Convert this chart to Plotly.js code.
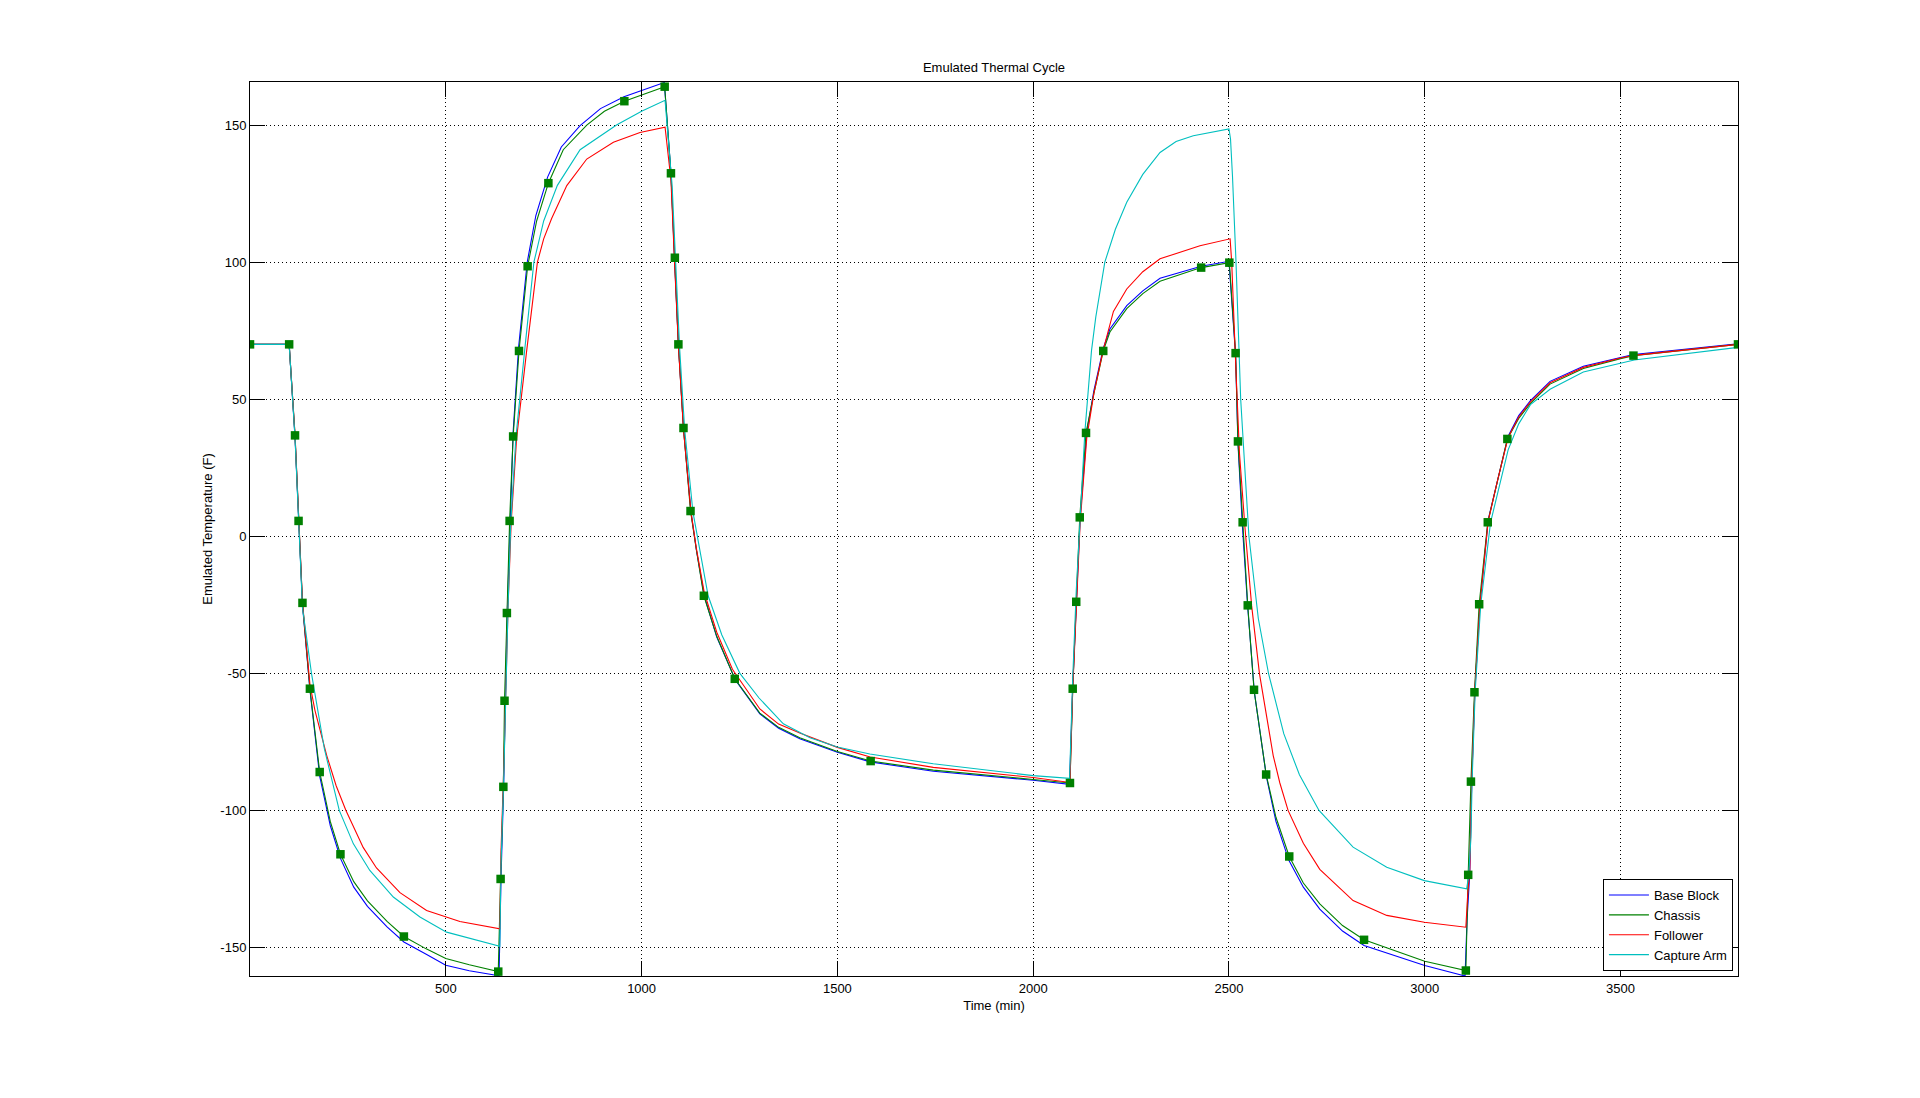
<!DOCTYPE html>
<html>
<head>
<meta charset="utf-8">
<script src="https://cdn.plot.ly/plotly-3.0.1.min.js"></script>
<style>html,body{margin:0;padding:0;background:#fff;}#chart{width:1920px;height:1098px;}</style>
</head>
<body>
<div id="chart"></div>
<script>
// Base Block (blue)
const baseT = [0,100,115,124,134,153,178,205,231,265,300,350,393,450,500,560,636,
  641,648,652,657,665,672,686,708,730,760,795,843,895,955,1058,
  1075,1084,1094,1107,1126,1140,1160,1192,1240,1302,1350,1404,1500,1584,1745,2000,2093,
  2101,2110,2120,2137,2155,2179,2196,2239,2280,2324,2429,2500,
  2517,2523,2534,2548,2565,2596,2620,2653,2690,2732,2790,2845,3000,3103,
  3108,3115,3120,3128,3141,3162,3187,3213,3240,3270,3320,3405,3500,3533,3800];
const baseV = [70,70,36,5,-25,-56,-87.5,-105.5,-117.5,-128,-135,-142.5,-148,-152.5,-156.5,-158.5,-160.3,
  -125,-90,-60,-28,7,38,69,100,117,131,142,149.8,156,160.3,165.5,
  132.5,101.5,70,39.5,9,-5,-21.7,-36.8,-52.5,-64.8,-70,-73.9,-78.8,-82.3,-85.7,-89,-90.5,
  -55,-23.5,7,38,53,68.5,75.6,84.1,89.5,94.1,98.5,100.3,
  66,34,4.5,-26,-57,-88,-104,-118.2,-128,-136,-144,-149.3,-156.6,-160.4,
  -140,-123,-89.6,-56.5,-25,6,21.5,36.5,44,49.5,56.5,62,65.2,66.3,70.2];

// Chassis (green)
const chassisT = [0,100,115,124,134,153,178,205,231,265,300,350,393,450,500,560,634,
  640,647,650,656,663,672,687,709,732,762,800,860,905,956,1059,
  1075,1085,1094,1107,1125,1140,1159,1192,1238,1302,1350,1404,1500,1585,1745,2000,2094,
  2101,2110,2119,2135,2155,2179,2196,2239,2280,2324,2429,2501,
  2517,2523,2535,2548,2564,2595,2620,2654,2690,2732,2790,2845,3000,3105,
  3111,3118,3127,3139,3161,3187,3211,3240,3270,3320,3405,3500,3533,3800];
const chassisV = [70,70,36.8,5.6,-24.3,-55.6,-86,-104,-116,-126,-133,-140.5,-146,-150.5,-154,-156.3,-158.8,
  -125,-91.4,-60,-28,5.6,36.4,67.6,98.5,115,128.8,141,150,155,158.7,164,
  132.4,101.6,70,39.5,9.2,-5,-21.7,-36.5,-52,-64.5,-69.7,-73.5,-78.5,-82,-85.3,-88.7,-90,
  -55.6,-23.9,6.9,37.7,52,67.6,74.5,83,88.5,93,98,99.8,
  66.8,34.6,5.1,-25.2,-56,-86.9,-102.5,-116.8,-126.5,-134.1,-142,-147.2,-155,-158.4,
  -123.5,-89.5,-56.9,-24.8,5.1,20.5,35.5,43,48.5,55.5,61.2,64.8,65.9,70];

// Follower (red)
const followerT = [0,100,115,124,134,153,166,196,220,245,289,323,383,451,536,638,
  641,648,653,659,667,681,706,734,750,770,809,860,928,996,1060,
  1075,1084,1094,1107,1126,1140,1160,1192,1232,1302,1350,1404,1500,1584,1745,2000,2094,
  2101,2110,2120,2137,2155,2179,2205,2239,2280,2324,2426,2503,
  2507,2518,2527,2541,2558,2578,2613,2630,2651,2690,2732,2817,2903,2999,3105,
  3110,3115,3120,3128,3141,3162,3187,3213,3240,3270,3320,3405,3500,3535,3800];
const followerV = [70,70,37,6,-24,-54,-63.6,-80,-91,-100,-113.5,-121,-130,-136.5,-140.5,-143.2,
  -115,-85,-57,-26,5,36,67,100,108.5,115.8,127.9,137.6,143.7,147.3,149.2,
  130,100.5,69.5,39,9,-4.5,-20.5,-35,-48.5,-63,-68.5,-71.8,-77,-80.5,-84.3,-88,-89.8,
  -56,-25,5,36,52,68,82,90.2,96.5,101.2,106,108.5,
  100,60,30,3,-25.4,-50.2,-80,-90,-100,-112,-121.5,-132.9,-138.3,-140.8,-142.6,
  -130,-122,-89,-56,-25,5.5,21,36,43.5,49,56,61.6,65,66,70];

// Capture Arm (cyan)
const captureT = [0,100,115,124,134,157,190,228,264,306,366,434,502,638,
  641,648,653,659,666,679,703,725,750,785,843,936,1000,1060,
  1068,1078,1087,1097,1110,1131,1170,1205,1251,1300,1362,1430,1500,1583,1745,2000,2093,
  2101,2110,2119,2132,2149,2160,2183,2210,2239,2280,2324,2365,2409,2500,
  2504,2509,2518,2530,2551,2575,2601,2640,2680,2730,2817,2903,2999,3107,
  3112,3118,3121,3129,3143,3168,3213,3240,3270,3320,3405,3535,3800];
const captureV = [70,70,36,4,-26,-50,-77.6,-100,-112.2,-121.9,-131.6,-138.9,-144.4,-149.6,
  -120,-88,-58,-26,5,36,70,100,115,128,141,150,155,159,
  145,128,100,69,39,9,-21.7,-36,-50,-59,-68.4,-73.5,-76.9,-79.4,-83,-87.3,-88.3,
  -52,-20,3,38,67.7,80,100,112,121.8,132,140,144,146.1,148.6,
  145,131.5,100,50,0,-30,-50,-72,-87,-100,-113.4,-120.7,-125.6,-128.6,
  -124,-110,-89,-56,-25,5,31.5,41,48,53.6,59.9,64.3,68.9];

// Sample markers (green squares)
const markerT = [0,100,115,124,134,153,178,231,393,634,640,647,650,656,663,672,687,709,762,956,1059,
  1075,1085,1094,1107,1125,1159,1238,1585,2094,2101,2110,2119,2135,2179,2429,2501,
  2517,2523,2535,2548,2564,2595,2654,2845,3105,3111,3118,3127,3139,3161,3211,3533,3800];
const markerV = [70,70,36.8,5.6,-24.3,-55.6,-86,-116,-146,-158.8,-125,-91.4,-60,-28,5.6,36.4,67.6,98.5,128.8,158.7,164,
  132.4,101.6,70,39.5,9.2,-21.7,-52,-82,-90,-55.6,-23.9,6.9,37.7,67.6,98,99.8,
  66.8,34.6,5.1,-25.2,-56,-86.9,-116.8,-147.2,-158.4,-123.5,-89.5,-56.9,-24.8,5.1,35.5,65.9,70];

const seriesNames = ['Base Block','Chassis','Follower','Capture Arm'];
const seriesColors = ['#0000FF','#008000','#FF0000','#00BFBF'];
const xTicks = [500,1000,1500,2000,2500,3000,3500];
const yTicks = [-150,-100,-50,0,50,100,150];

const FONT = 'Liberation Sans, Arial, Helvetica, sans-serif';
const FS = 13;

const xs = [baseT, chassisT, followerT, captureT];
const ys = [baseV, chassisV, followerV, captureV];
const traces = seriesNames.map((n,i)=>({
  x: xs[i], y: ys[i], name: n, type: 'scatter', mode: 'lines',
  line: {color: seriesColors[i], width: 1.1}
}));
traces.push({
  x: markerT, y: markerV, type: 'scatter', mode: 'markers', showlegend: false,
  marker: {symbol: 'square', size: 8.5, color: '#008000', line: {width: 0}}
});

const axisCommon = {
  showline: true, linecolor: '#000', linewidth: 1, mirror: 'ticks',
  ticks: 'inside', ticklen: 15, tickwidth: 1, tickcolor: '#000',
  showgrid: true, gridcolor: '#000', gridwidth: 1, griddash: '1px,3px',
  zeroline: false, tickfont: {family: FONT, size: FS, color: '#000'}
};

const layout = {
  width: 1920, height: 1098,
  paper_bgcolor: '#fff', plot_bgcolor: '#fff',
  margin: {l: 250, r: 182, t: 82, b: 122},
  font: {family: FONT, size: FS, color: '#000'},
  title: {text: 'Emulated Thermal Cycle', font: {family: FONT, size: FS, color: '#000'},
    x: 0.5, xref: 'paper', xanchor: 'center', y: 1 - 67/1098, yref: 'container', yanchor: 'middle'},
  xaxis: Object.assign({}, axisCommon, {
    range: [0, 3800], tickmode: 'array', tickvals: xTicks, ticktext: xTicks.map(String),
    title: {text: 'Time (min)', font: {family: FONT, size: FS, color: '#000'}, standoff: 6}
  }),
  yaxis: Object.assign({}, axisCommon, {
    range: [-160.4, 165.7], tickmode: 'array', tickvals: yTicks, ticktext: yTicks.map(String),
    title: {text: 'Emulated Temperature (F)', font: {family: FONT, size: FS, color: '#000'}, standoff: 4}
  }),
  legend: {
    x: 0.9966, y: 0.0056, xanchor: 'right', yanchor: 'bottom',
    bgcolor: '#fff', bordercolor: '#000', borderwidth: 1,
    font: {family: FONT, size: FS, color: '#000'},
    tracegroupgap: 0, itemwidth: 40
  },
  showlegend: true
};

Plotly.newPlot('chart', traces, layout, {displayModeBar: false, responsive: false});
</script>
</body>
</html>
